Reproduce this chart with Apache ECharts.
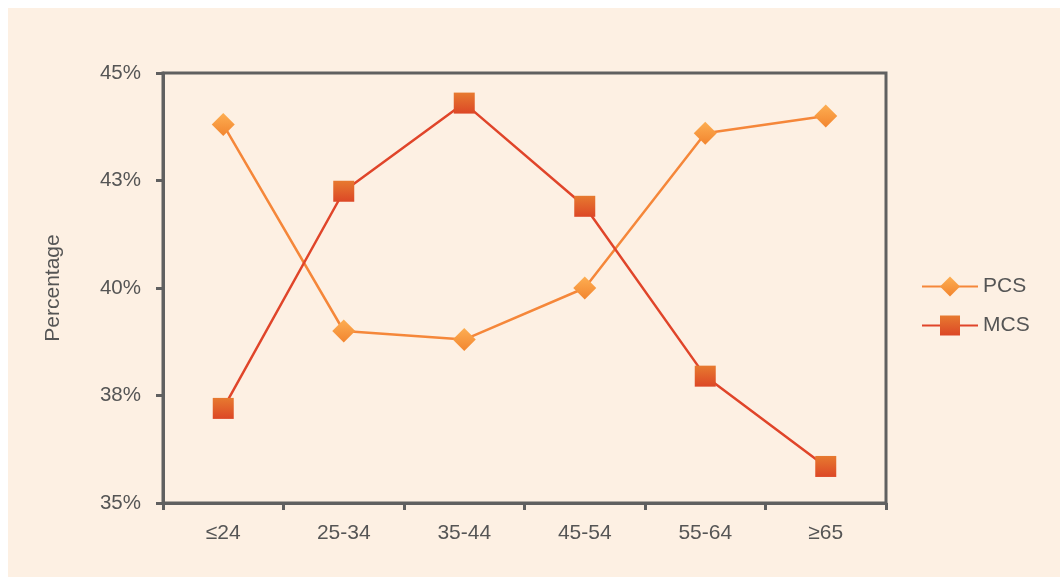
<!DOCTYPE html>
<html>
<head>
<meta charset="utf-8">
<script src="https://cdn.jsdelivr.net/npm/echarts@6/dist/echarts.min.js"></script>
<style>
html,body{margin:0;padding:0;background:#ffffff;}
#c{position:absolute;left:8px;top:8px;width:1052px;height:569px;background:#FDF0E3;}
</style>
</head>
<body>
<div id="c"></div>
<script>
const categories = ['≤24','25-34','35-44','45-54','55-64','≥65'];
const pcsValues = [43.8, 39.0, 38.8, 40.0, 43.6, 44.0];
const mcsValues = [37.2, 42.25, 44.3, 41.9, 37.95, 35.85];
const yMin = 35, yMax = 45, yStep = 2.5;

const chart = echarts.init(document.getElementById('c'));
const font = 'Liberation Sans, Arial, sans-serif';
const axisGrey = '#606060';
const textGrey = '#555555';

const pcsGrad = new echarts.graphic.LinearGradient(0,0,0,1,[{offset:0,color:'#FDAE52'},{offset:1,color:'#F2852F'}]);
const mcsGrad = new echarts.graphic.LinearGradient(0,0,0,1,[{offset:0,color:'#E77A30'},{offset:1,color:'#DC4726'}]);

chart.setOption({
  animation:false,
  backgroundColor:'transparent',
  grid:{left:155,top:65,right:174,bottom:74,show:true,borderColor:axisGrey,borderWidth:3,backgroundColor:'transparent'},
  legend:{
    orient:'vertical', left:908, top:263, itemWidth:56, itemHeight:25, itemGap:18, padding:5, itemGap:18,
    textStyle:{fontFamily:font,fontSize:21,color:textGrey},
    data:['PCS','MCS']
  },
  xAxis:{
    type:'category', data:categories, boundaryGap:true,
    axisLine:{lineStyle:{color:axisGrey,width:3}},
    axisTick:{show:true,length:7,lineStyle:{color:axisGrey,width:3}},
    axisLabel:{fontFamily:font,fontSize:21,color:textGrey,margin:20}
  },
  yAxis:{
    type:'value', min:yMin, max:yMax, interval:yStep,
    name:'Percentage', nameLocation:'middle', nameGap:99, nameRotate:90,
    nameTextStyle:{fontFamily:font,fontSize:21,color:textGrey},
    axisLine:{show:true,lineStyle:{color:axisGrey,width:3}},
    axisTick:{show:true,length:7,lineStyle:{color:axisGrey,width:3}},
    splitLine:{show:false},
    axisLabel:{fontFamily:font,fontSize:20.5,color:textGrey,margin:22,formatter:v=>Math.round(v)+'%'}
  },
  series:[
    {name:'PCS',type:'line',data:pcsValues,symbol:'diamond',symbolSize:23,
     lineStyle:{color:'#F5873A',width:2.5},itemStyle:{color:pcsGrad},z:3},
    {name:'MCS',type:'line',data:mcsValues,symbol:'rect',symbolSize:21,
     lineStyle:{color:'#E0452A',width:2.5},itemStyle:{color:mcsGrad},z:4}
  ]
});
</script>
</body>
</html>
